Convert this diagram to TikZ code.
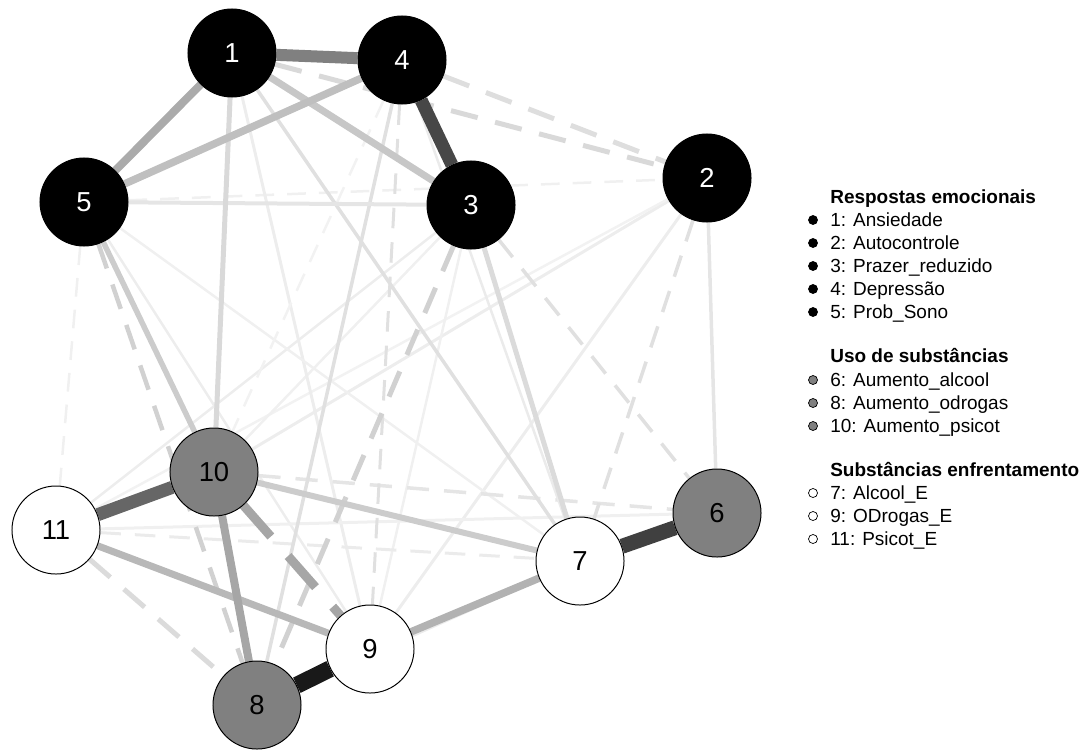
\documentclass[tikz,border=0pt]{standalone}
\usepackage{fontspec}
\setmainfont{Liberation Sans}
\pgfdeclarelayer{edges}
\pgfsetlayers{edges,main}

\begin{document}
\begin{tikzpicture}[x=0.025cm, y=-0.025cm,
	vnode/.style={draw, circle, minimum size=2.2cm, inner sep=0pt, line width=0.7pt, font=\fontsize{19.5}{20}\selectfont},
	emonode/.style={vnode, fill=black, text=white},
	usonode/.style={vnode, fill=black!50},
	enfnode/.style={vnode, fill=white},
	lnk/.style 2 args={draw=black!#1, line width=#2*0.025cm},
	dlnk/.style 2 args={lnk={#1}{#2}, dash pattern=on (3.5*#2+10)*0.025cm off (2*#2+8)*0.025cm},
	lgdot/.style={draw, circle, minimum size=0.225cm, inner sep=0pt, line width=0.5pt},
	lgtext/.style={anchor=base west, inner sep=0pt, font=\fontsize{13.5}{13.5}\selectfont},
	lghead/.style={lgtext, font=\fontsize{13.5}{13.5}\selectfont\bfseries}]
	\useasboundingbox (0,0) rectangle (1082,749);
	\node[emonode] (v1) at (232,53) {1};
	\node[emonode] (v2) at (707,178) {2};
	\node[emonode] (v3) at (471,205) {3};
	\node[emonode] (v4) at (402,60) {4};
	\node[emonode] (v5) at (84,202) {5};
	\node[usonode] (v6) at (717,513) {6};
	\node[enfnode] (v7) at (580,561) {7};
	\node[usonode] (v8) at (257,705) {8};
	\node[enfnode] (v9) at (370,649) {9};
	\node[usonode] (v10) at (214,472) {10};
	\node[enfnode] (v11) at (56,530) {11};
	\begin{pgfonlayer}{edges}
	% faint links first
	\draw[dlnk={6}{2.5}] (v5) -- (v2);
	\draw[lnk={7}{3}] (v2) -- (v10);
	\draw[lnk={5}{2.5}] (v11) -- (v2);
	\draw[lnk={7}{3}] (v2) -- (v9);
	\draw[lnk={7}{2.5}] (v11) -- (v3);
	\draw[lnk={6}{2.5}] (v10) -- (v3);
	\draw[lnk={6}{2.5}] (v3) -- (v9);
	\draw[lnk={7}{3}] (v1) -- (v9);
	\draw[lnk={6}{2.5}] (v5) -- (v7);
	\draw[lnk={7}{2.5}] (v5) -- (v9);
	\draw[dlnk={5}{2.5}] (v4) -- (v10);
	\draw[dlnk={6}{2.5}] (v5) -- (v11);
	\draw[lnk={6}{3}] (v11) -- (v6);
	\draw[dlnk={8}{3}] (v11) -- (v7);
	\draw[dlnk={10}{3.5}] (v10) -- (v6);
	\draw[lnk={8}{3}] (v8) -- (v7);
	\draw[lnk={8}{2.5}] (v4) -- (v7);
	\draw[lnk={12}{3.5}] (v1) -- (v7);
	\draw[lnk={10}{3.5}] (v2) -- (v6);
	\draw[dlnk={12}{3.5}] (v3) -- (v6);
	\draw[dlnk={12}{3.5}] (v2) -- (v7);
	\draw[lnk={14}{5}] (v3) -- (v7);
	\draw[lnk={12}{3.5}] (v4) -- (v8);
	\draw[dlnk={12}{3}] (v4) -- (v9);
	\draw[dlnk={18}{5}] (v3) -- (v8);
	\draw[dlnk={15}{5}] (v1) -- (v2);
	\draw[dlnk={13}{5}] (v4) -- (v2);
	\draw[lnk={10}{4}] (v5) -- (v3);
	\draw[lnk={15}{5}] (v1) -- (v10);
	\draw[lnk={20}{5.5}] (v5) -- (v10);
	\draw[dlnk={18}{4.5}] (v5) -- (v8);
	\draw[dlnk={14}{5}] (v11) -- (v8);
	\draw[lnk={20}{6}] (v10) -- (v7);
	% stronger links
	\draw[lnk={28}{7}] (v11) -- (v9);
	\draw[lnk={30}{7.5}] (v9) -- (v7);
	\draw[lnk={22}{7}] (v1) -- (v3);
	\draw[lnk={25}{7.5}] (v5) -- (v4);
	\draw[lnk={33}{8}] (v1) -- (v5);
	\draw[lnk={35}{8}] (v10) -- (v8);
	\draw[dlnk={35}{9}] (v10) -- (v9);
	\draw[lnk={50}{12}] (v1) -- (v4);
	\draw[lnk={60}{13}] (v10) -- (v11);
	\draw[lnk={72}{13}] (v4) -- (v3);
	\draw[lnk={75}{15}] (v7) -- (v6);
	\draw[lnk={90}{17}] (v8) -- (v9);
	\end{pgfonlayer}
	% legend
	\node[lghead] (h1) at (830,203.5) {Respostas emocionais};
	\node[lgdot, fill=black] (d1) at (813,220) {};
	\node[lgtext] (t1) at (830,226.5) {1: Ansiedade};
	\node[lgdot, fill=black] (d2) at (813,243) {};
	\node[lgtext] (t2) at (830,249.5) {2: Autocontrole};
	\node[lgdot, fill=black] (d3) at (813,266) {};
	\node[lgtext] (t3) at (830,272.5) {3: Prazer\_reduzido};
	\node[lgdot, fill=black] (d4) at (813,289) {};
	\node[lgtext] (t4) at (830,295.5) {4: Depressão};
	\node[lgdot, fill=black] (d5) at (813,312) {};
	\node[lgtext] (t5) at (830,318.5) {5: Prob\_Sono};
	\node[lghead] (h2) at (830,362.5) {Uso de substâncias};
	\node[lgdot, fill=black!50] (d6) at (813,380) {};
	\node[lgtext] (t6) at (830,386.5) {6: Aumento\_alcool};
	\node[lgdot, fill=black!50] (d8) at (813,403) {};
	\node[lgtext] (t8) at (830,409.5) {8: Aumento\_odrogas};
	\node[lgdot, fill=black!50] (d10) at (813,426) {};
	\node[lgtext] (t10) at (830,432.5) {10: Aumento\_psicot};
	\node[lghead] (h3) at (830,476.5) {Substâncias enfrentamento};
	\node[lgdot, fill=white] (d7) at (813,493) {};
	\node[lgtext] (t7) at (830,499.5) {7: Alcool\_E};
	\node[lgdot, fill=white] (d9) at (813,516) {};
	\node[lgtext] (t9) at (830,522.5) {9: ODrogas\_E};
	\node[lgdot, fill=white] (d11) at (813,539) {};
	\node[lgtext] (t11) at (830,545.5) {11: Psicot\_E};
\end{tikzpicture}
\end{document}
